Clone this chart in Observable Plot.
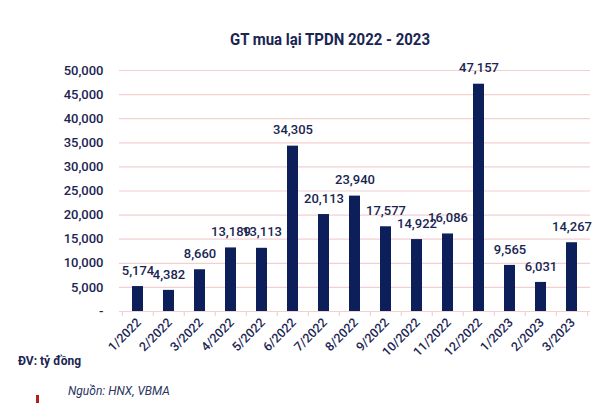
<!DOCTYPE html>
<html>
<head>
<meta charset="utf-8">
<script src="https://cdn.jsdelivr.net/npm/d3@7"></script>
<script src="https://cdn.jsdelivr.net/npm/@observablehq/plot@0.6"></script>
<style>
  body { margin: 0; background: #fff; }
  #wrap { position: relative; width: 600px; height: 403px; overflow: hidden; font-family: Roboto, sans-serif; }
  #title { position: absolute; top: 29px; left: 0; width: 660px; text-align: center; font-size: 17px; font-weight: 700; color: #1a2552; transform: scaleX(0.88); transform-origin: 330px 0; }
  #unit { position: absolute; left: 18px; top: 354px; font-size: 12px; font-weight: 700; color: #1a2552; }
  #src { position: absolute; left: 68px; top: 384px; font-size: 12px; font-style: italic; color: #2b3560; }
  #redmark { position: absolute; left: 36px; top: 395px; width: 3px; height: 10px; background: #b81c22; }
  #chart { position: absolute; left: 0; top: 0; }
</style>
</head>
<body>
<div id="wrap">
  <div id="chart"></div>
  <div id="title">GT mua lại TPDN 2022 - 2023</div>
  <div id="unit">ĐV: tỷ đồng</div>
  <div id="src">Nguồn: HNX, VBMA</div>
  <div id="redmark"></div>
</div>
<script>
const months = ["1/2022","2/2022","3/2022","4/2022","5/2022","6/2022","7/2022","8/2022","9/2022","10/2022","11/2022","12/2022","1/2023","2/2023","3/2023"];
const values = [5174, 4382, 8660, 13189, 13113, 34305, 20113, 23940, 17577, 14922, 16086, 47157, 9565, 6031, 14267];
const yTicks = [0, 5000, 10000, 15000, 20000, 25000, 30000, 35000, 40000, 45000, 50000];

const data = months.map((m, i) => ({month: m, value: values[i]}));
const fmt = d3.format(",");
const navy = "#0c1f5b";
const textCol = "#1a2552";
const pink = "#f3d0d0";

const W = 600, H = 403, mL = 119, mR = 10, mT = 70, mB = 92;
const step = (W - mL - mR) / months.length;

const chart = Plot.plot({
  width: W,
  height: H,
  marginLeft: mL,
  marginRight: mR,
  marginTop: mT,
  marginBottom: mB,
  style: {fontFamily: "Roboto, sans-serif", fontSize: "13px", color: textCol, background: "transparent"},
  x: {domain: months, paddingInner: 0.65, paddingOuter: 0.325, label: null},
  y: {domain: [0, 50000], label: null},
  marks: [
    Plot.gridY(yTicks.filter(d => d > 0), {stroke: pink, strokeOpacity: 1, strokeWidth: 1.2}),
    Plot.ruleY([0], {stroke: pink, strokeWidth: 1.2}),
    Plot.ruleX(months, {x: d => d, dx: -step / 2, y1: 0, y2: -1050, stroke: pink, strokeWidth: 1.2}),
    Plot.ruleX([months[months.length - 1]], {x: d => d, dx: step / 2, y1: 0, y2: -1050, stroke: pink, strokeWidth: 1.2}),
    Plot.barY(data, {x: "month", y: "value", fill: navy}),
    Plot.text(data, {x: "month", y: "value", text: d => fmt(d.value), dy: -16, fill: textCol, fontSize: 13, fontWeight: 500}),
    Plot.axisY(yTicks, {tickSize: 0, tickPadding: 16, tickFormat: d => d === 0 ? "-" : fmt(d), fill: textCol, fontSize: 13, fontWeight: 500}),
    Plot.axisX({tickSize: 0, tickRotate: -45, tickPadding: 9, fill: textCol, fontSize: 12.5, fontWeight: 500, textAnchor: "end", dx: 1})
  ]
});
document.getElementById("chart").appendChild(chart);
</script>
</body>
</html>
